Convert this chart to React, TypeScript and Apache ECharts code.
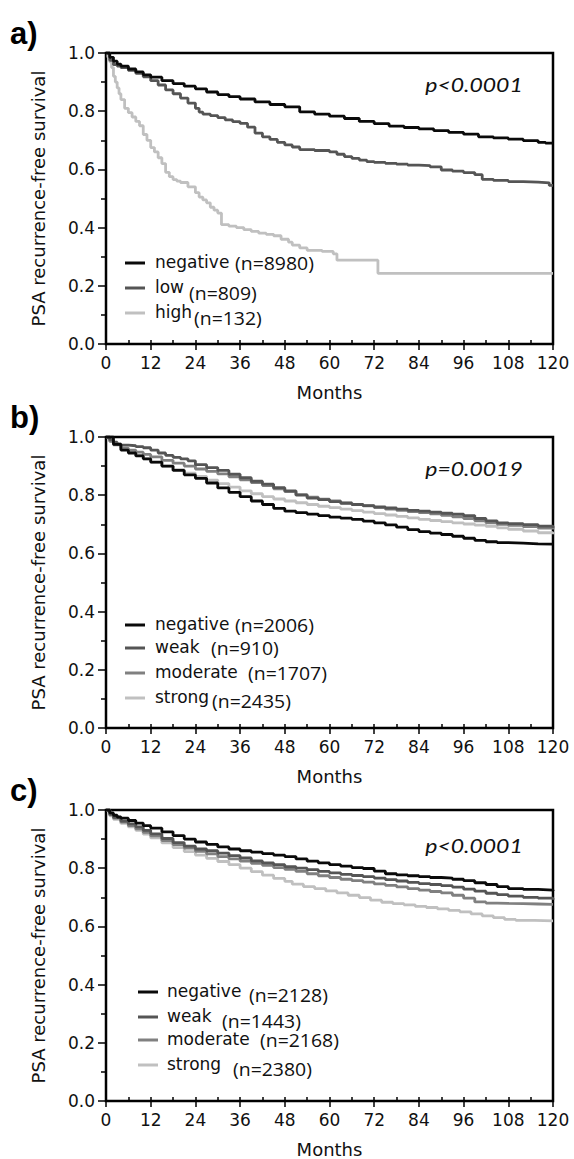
import React, { useEffect, useRef } from 'react';
import * as echarts from 'echarts';

type Pt = [number, number];

// ---------- Panel a ----------
const aNegative: Pt[] = [
  [0, 1], [1, 0.985], [2, 0.972], [3, 0.962], [4, 0.955], [6, 0.945], [8, 0.935], [10, 0.925], [12, 0.917],
  [15, 0.905], [18, 0.895], [21, 0.886], [24, 0.877], [27, 0.866], [30, 0.857], [33, 0.85], [36, 0.842],
  [40, 0.832], [44, 0.823], [48, 0.815], [52, 0.798], [56, 0.79], [60, 0.783], [64, 0.775], [68, 0.765],
  [72, 0.757], [76, 0.749], [80, 0.744], [84, 0.739], [88, 0.733], [92, 0.727], [96, 0.721], [100, 0.712],
  [104, 0.708], [108, 0.704], [112, 0.699], [116, 0.693], [118, 0.69], [120, 0.688],
];
const aLow: Pt[] = [
  [0, 1], [1, 0.975], [2, 0.96], [3, 0.955], [4, 0.95], [6, 0.94], [8, 0.93], [10, 0.918], [12, 0.905],
  [14, 0.89], [16, 0.873], [18, 0.86], [20, 0.845], [22, 0.828], [24, 0.81], [25, 0.797], [26, 0.79],
  [28, 0.785], [30, 0.778], [32, 0.77], [34, 0.764], [36, 0.758], [38, 0.745], [40, 0.725], [42, 0.712],
  [44, 0.703], [46, 0.693], [48, 0.684], [50, 0.677], [52, 0.668], [56, 0.665], [60, 0.66], [62, 0.652],
  [64, 0.644], [66, 0.638], [68, 0.632], [70, 0.627], [72, 0.624], [75, 0.621], [78, 0.618], [81, 0.615],
  [84, 0.613], [87, 0.609], [90, 0.598], [93, 0.594], [96, 0.589], [99, 0.582], [101, 0.566], [104, 0.562],
  [108, 0.558], [112, 0.556], [116, 0.554], [119, 0.545], [120, 0.543],
];
const aHigh: Pt[] = [
  [0, 1], [0.5, 0.985], [1, 0.97], [1.5, 0.95], [2, 0.92], [2.5, 0.9], [3, 0.88], [3.5, 0.86], [4, 0.84],
  [5, 0.81], [6, 0.795], [7, 0.78], [8, 0.765], [9, 0.75], [10, 0.72], [11, 0.7], [12, 0.675], [13, 0.66],
  [14, 0.64], [15, 0.62], [16, 0.59], [17, 0.575], [18, 0.565], [19, 0.56], [20, 0.555], [22, 0.54],
  [24, 0.52], [25, 0.505], [26, 0.495], [27, 0.485], [28, 0.47], [29, 0.46], [30, 0.45], [31, 0.41],
  [33, 0.405], [35, 0.4], [37, 0.393], [39, 0.387], [41, 0.381], [43, 0.377], [45, 0.372], [47, 0.36],
  [49, 0.35], [50, 0.34], [52, 0.33], [54, 0.322], [58, 0.318], [61, 0.31], [62, 0.288], [73, 0.243],
  [120, 0.243],
];

// ---------- Panel b ----------
const bNegative: Pt[] = [
  [0, 1], [2, 0.975], [4, 0.955], [6, 0.945], [8, 0.935], [10, 0.925], [12, 0.914], [15, 0.9], [18, 0.885],
  [21, 0.87], [24, 0.858], [27, 0.842], [30, 0.825], [33, 0.81], [36, 0.795], [39, 0.78], [42, 0.768],
  [45, 0.755], [48, 0.745], [51, 0.74], [54, 0.735], [57, 0.73], [60, 0.725], [63, 0.721], [66, 0.717],
  [69, 0.711], [72, 0.705], [75, 0.698], [78, 0.69], [81, 0.682], [84, 0.675], [87, 0.67], [90, 0.665],
  [93, 0.659], [96, 0.652], [99, 0.645], [102, 0.64], [105, 0.637], [108, 0.635], [112, 0.633],
  [116, 0.632], [120, 0.63],
];
const bWeak: Pt[] = [
  [0, 1], [1, 0.99], [2, 0.982], [3, 0.976], [4, 0.972], [6, 0.97], [8, 0.967], [10, 0.963], [12, 0.955],
  [14, 0.945], [16, 0.937], [18, 0.93], [20, 0.925], [22, 0.918], [24, 0.905], [27, 0.895], [30, 0.885],
  [33, 0.872], [36, 0.86], [39, 0.848], [42, 0.838], [45, 0.826], [48, 0.815], [51, 0.8], [54, 0.79],
  [57, 0.785], [60, 0.778], [63, 0.772], [66, 0.768], [69, 0.764], [72, 0.76], [75, 0.756], [78, 0.752],
  [81, 0.748], [84, 0.745], [87, 0.742], [90, 0.738], [93, 0.735], [96, 0.73], [99, 0.72], [102, 0.712],
  [105, 0.705], [108, 0.702], [112, 0.699], [116, 0.694], [120, 0.687],
];
const bModerate: Pt[] = [
  [0, 1], [1, 0.985], [2, 0.975], [4, 0.962], [6, 0.955], [8, 0.948], [10, 0.94], [12, 0.932], [15, 0.92],
  [18, 0.91], [21, 0.9], [24, 0.89], [27, 0.882], [30, 0.873], [33, 0.863], [36, 0.853], [39, 0.843],
  [42, 0.833], [45, 0.822], [48, 0.812], [51, 0.802], [54, 0.793], [57, 0.786], [60, 0.78], [63, 0.774],
  [66, 0.768], [69, 0.763], [72, 0.757], [75, 0.752], [78, 0.748], [81, 0.744], [84, 0.74], [87, 0.736],
  [90, 0.731], [93, 0.726], [96, 0.72], [99, 0.712], [102, 0.705], [105, 0.7], [108, 0.696], [112, 0.692],
  [116, 0.687], [120, 0.682],
];
const bStrong: Pt[] = [
  [0, 1], [1, 0.985], [2, 0.972], [4, 0.958], [6, 0.948], [8, 0.937], [10, 0.925], [12, 0.913], [15, 0.9],
  [18, 0.888], [21, 0.876], [24, 0.865], [27, 0.852], [30, 0.84], [33, 0.828], [36, 0.815], [39, 0.805],
  [42, 0.795], [45, 0.787], [48, 0.78], [51, 0.774], [54, 0.768], [57, 0.762], [60, 0.757], [63, 0.752],
  [66, 0.747], [69, 0.742], [72, 0.737], [75, 0.732], [78, 0.727], [81, 0.722], [84, 0.717], [87, 0.713],
  [90, 0.709], [93, 0.705], [96, 0.701], [99, 0.697], [102, 0.693], [105, 0.688], [108, 0.683],
  [112, 0.677], [116, 0.671], [120, 0.666],
];

// ---------- Panel c ----------
const cNegative: Pt[] = [
  [0, 1], [1, 0.99], [2, 0.982], [3, 0.976], [4, 0.972], [6, 0.964], [8, 0.955], [10, 0.946], [12, 0.938],
  [15, 0.925], [18, 0.912], [21, 0.9], [24, 0.89], [27, 0.882], [30, 0.873], [33, 0.866], [36, 0.86],
  [39, 0.855], [42, 0.85], [45, 0.845], [48, 0.84], [51, 0.832], [54, 0.824], [57, 0.818], [60, 0.812],
  [63, 0.807], [66, 0.802], [69, 0.799], [72, 0.79], [75, 0.781], [78, 0.777], [81, 0.774], [84, 0.771],
  [87, 0.768], [90, 0.766], [93, 0.762], [96, 0.757], [99, 0.75], [102, 0.744], [105, 0.737], [108, 0.73],
  [112, 0.727], [116, 0.725], [120, 0.722],
];
const cWeak: Pt[] = [
  [0, 1], [1, 0.985], [2, 0.975], [4, 0.962], [6, 0.952], [8, 0.942], [10, 0.93], [12, 0.918], [15, 0.902],
  [18, 0.888], [21, 0.876], [24, 0.866], [27, 0.86], [30, 0.852], [33, 0.843], [36, 0.835], [39, 0.825],
  [42, 0.818], [45, 0.812], [48, 0.805], [51, 0.8], [54, 0.795], [57, 0.789], [60, 0.784], [63, 0.779],
  [66, 0.775], [69, 0.771], [72, 0.766], [75, 0.761], [78, 0.756], [81, 0.751], [84, 0.747], [87, 0.744],
  [90, 0.74], [93, 0.735], [96, 0.728], [99, 0.721], [102, 0.714], [105, 0.709], [108, 0.704], [112, 0.7],
  [116, 0.697], [120, 0.692],
];
const cModerate: Pt[] = [
  [0, 1], [1, 0.983], [2, 0.972], [4, 0.958], [6, 0.946], [8, 0.935], [10, 0.923], [12, 0.911], [15, 0.895],
  [18, 0.881], [21, 0.869], [24, 0.858], [27, 0.849], [30, 0.84], [33, 0.832], [36, 0.824], [39, 0.817],
  [42, 0.81], [45, 0.802], [48, 0.796], [51, 0.789], [54, 0.781], [57, 0.774], [60, 0.768], [63, 0.762],
  [66, 0.757], [69, 0.752], [72, 0.746], [75, 0.741], [78, 0.736], [81, 0.73], [84, 0.725], [87, 0.72],
  [90, 0.715], [93, 0.707], [96, 0.697], [99, 0.684], [102, 0.68], [105, 0.679], [108, 0.678],
  [112, 0.677], [116, 0.676], [120, 0.675],
];
const cStrong: Pt[] = [
  [0, 1], [1, 0.98], [2, 0.968], [4, 0.954], [6, 0.942], [8, 0.93], [10, 0.917], [12, 0.904], [15, 0.887],
  [18, 0.871], [21, 0.857], [24, 0.845], [27, 0.834], [30, 0.823], [33, 0.812], [36, 0.8], [39, 0.788],
  [42, 0.776], [45, 0.765], [48, 0.755], [50, 0.745], [53, 0.737], [56, 0.73], [59, 0.722], [62, 0.715],
  [65, 0.707], [68, 0.699], [71, 0.69], [74, 0.683], [77, 0.678], [80, 0.674], [83, 0.669], [86, 0.665],
  [89, 0.66], [92, 0.655], [95, 0.65], [98, 0.643], [101, 0.636], [104, 0.63], [107, 0.624], [110, 0.621],
  [115, 0.619], [120, 0.617],
];

// ---------- Labels ----------
const panelLabels = ['a)', 'b)', 'c)'];
const pValues = ['p<0.0001', 'p=0.0019', 'p<0.0001'];
const aNames = ['negative', 'low', 'high'];
const aCounts = ['(n=8980)', '(n=809)', '(n=132)'];
const bNames = ['negative', 'weak', 'moderate', 'strong'];
const bCounts = ['(n=2006)', '(n=910)', '(n=1707)', '(n=2435)'];
const cNames = ['negative', 'weak', 'moderate', 'strong'];
const cCounts = ['(n=2128)', '(n=1443)', '(n=2168)', '(n=2380)'];
const xTitle = 'Months';
const yTitle = 'PSA recurrence-free survival';

const COL_NEG = '#0a0a0a';
const COL_DARK = '#555555';
const COL_MID = '#808080';
const COL_LIGHT = '#c0c0c0';

const panels = [
  { series: [aNegative, aLow, aHigh], colors: [COL_NEG, COL_DARK, COL_LIGHT], names: aNames, counts: aCounts },
  { series: [bNegative, bWeak, bModerate, bStrong], colors: [COL_NEG, COL_DARK, COL_MID, COL_LIGHT], names: bNames, counts: bCounts },
  { series: [cNegative, cWeak, cModerate, cStrong], colors: [COL_NEG, COL_DARK, COL_MID, COL_LIGHT], names: cNames, counts: cCounts },
];

// layout
const GRID_LEFT = 106;
const GRID_W = 447;
const GRID_H = 291;
const TOPS = [53, 437, 810];
const FONT = 'DejaVu Sans';
const NFONT = 'Open Sans';
const legendLayout = [
  { icon: [125, 145], nameX: 155, rows: [210, 235, 260], countX: [235, 189, 194], dy: [0, 5, 5] },
  { icon: [125, 145], nameX: 155, rows: [188, 211, 236, 261], countX: [235, 211, 248, 212], dy: [0, 0, 0, 3] },
  { icon: [138, 158], nameX: 167, rows: [182, 207, 230, 255], countX: [249, 222, 260, 233], dy: [3, 4, 0, 4] },
];

function txt(x: number, y: number, text: string, font: string, fill: string, align = 'left', scaleX = 1) {
  return {
    type: 'text',
    x,
    y,
    scaleX,
    silent: true,
    style: {
      text,
      x: 0,
      y: 0,
      font,
      fill,
      align,
      verticalAlign: 'middle',
      textAlign: align,
      textVerticalAlign: 'middle',
    },
  };
}

export default function App() {
  const ref = useRef<HTMLDivElement>(null);
  useEffect(() => {
    document.body.style.margin = '0';
    if (!ref.current) return;
    const chart = echarts.init(ref.current, undefined, { renderer: 'svg' });

    const grid: any[] = [];
    const xAxis: any[] = [];
    const yAxis: any[] = [];
    const series: any[] = [];
    const graphic: any[] = [];

    panels.forEach((p, i) => {
      const top = TOPS[i];
      grid.push({
        left: GRID_LEFT, top, width: GRID_W, height: GRID_H,
        show: true, borderColor: '#000', borderWidth: 2.5, backgroundColor: 'transparent',
      });
      xAxis.push({
        gridIndex: i, type: 'value', min: 0, max: 120, interval: 12, position: 'bottom',
        axisLine: { show: true, onZero: false, lineStyle: { color: '#000', width: 2 } },
        axisTick: { show: true, length: 6, lineStyle: { color: '#000', width: 1.5 } },
        axisLabel: { margin: 10, fontSize: 17, fontFamily: FONT, color: '#111' },
        splitLine: { show: false },
        name: xTitle, nameLocation: 'middle', nameGap: 39,
        nameTextStyle: { fontSize: 18, fontFamily: FONT, color: '#111' },
      });
      xAxis.push({
        gridIndex: i, type: 'value', min: 0, max: 120, interval: 6, position: 'bottom',
        axisLine: { show: false },
        axisTick: { show: true, inside: true, length: 4, lineStyle: { color: '#000', width: 1.5 } },
        axisLabel: { show: false },
        splitLine: { show: false },
      });
      yAxis.push({
        gridIndex: i, type: 'value', min: 0, max: 1, interval: 0.2,
        axisLine: { show: true, onZero: false, lineStyle: { color: '#000', width: 2 } },
        axisTick: { show: true, length: 8, lineStyle: { color: '#000', width: 1.5 } },
        minorTick: { show: true, splitNumber: 2, length: 5, lineStyle: { color: '#000', width: 1.5 } },
        minorSplitLine: { show: false },
        axisLabel: { margin: 11, fontSize: 17, fontFamily: FONT, color: '#111', formatter: (v: number) => v.toFixed(1) },
        splitLine: { show: false },
        name: yTitle, nameLocation: 'middle', nameGap: 59,
        nameTextStyle: { fontSize: 18, fontFamily: FONT, color: '#111' },
      });
      p.series.forEach((d, k) => {
        series.push({
          name: `${panelLabels[i]} ${p.names[k]}`,
          type: 'line', step: 'end', xAxisIndex: i * 2, yAxisIndex: i,
          data: d, showSymbol: false, symbol: 'none',
          lineStyle: { color: p.colors[k], width: 2.8 },
          z: 10 - k,
        });
      });

      // panel label
      graphic.push(txt(10, top - 20, panelLabels[i], `bold 31px "Liberation Sans"`, '#000'));
      // p-value
      graphic.push(txt(474, top + (i === 2 ? 36 : 32), pValues[i], `italic 20px Lato`, '#111', 'center', 1.15));
      // legend
      const L = legendLayout[i];
      p.names.forEach((nm, k) => {
        const y = top + L.rows[k];
        graphic.push({
          type: 'line', silent: true,
          shape: { x1: L.icon[0], y1: y, x2: L.icon[1], y2: y },
          style: { stroke: p.colors[k], lineWidth: 3 },
        });
        graphic.push(txt(L.nameX, y - 1, nm, `17px "${FONT}"`, '#111'));
        graphic.push(txt(L.countX[k], y + L.dy[k], p.counts[k], `18px "${NFONT}"`, '#111', 'left', 1.08));
      });
    });

    chart.setOption({
      animation: false,
      backgroundColor: '#fff',
      grid, xAxis, yAxis, series, graphic,
    });
    return () => chart.dispose();
  }, []);
  return <div ref={ref} style={{ width: 574, height: 1159 }} />;
}
